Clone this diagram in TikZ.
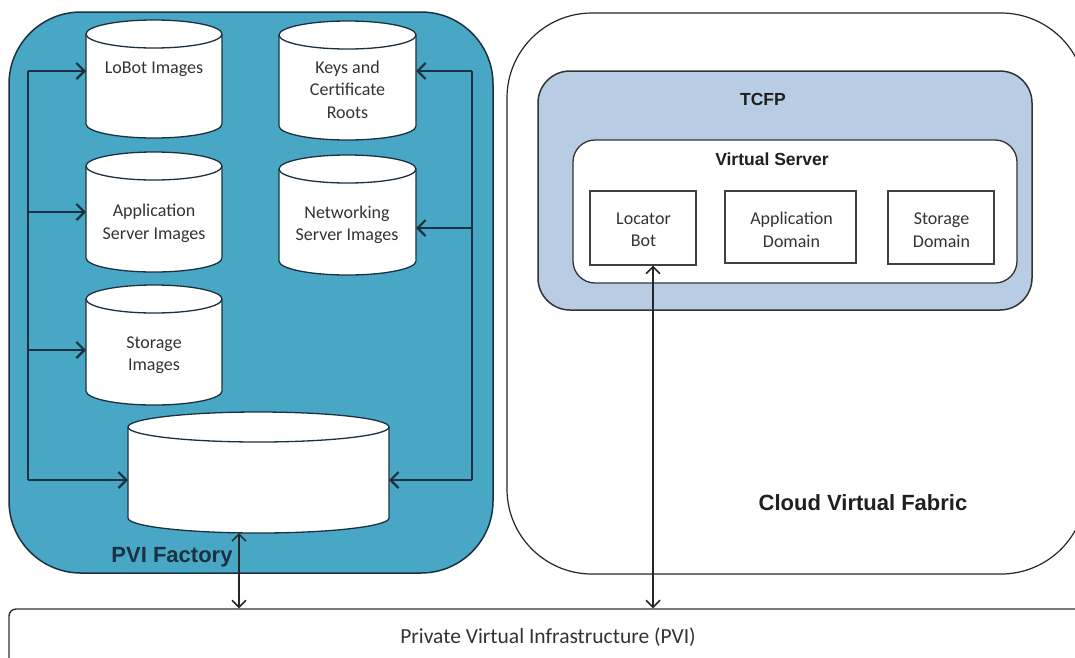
\documentclass[tikz,border=0pt]{standalone}
\usepackage{fontspec}
\setmainfont{Carlito}
\newfontfamily\hdfont{Liberation Sans}
\usetikzlibrary{arrows.meta,fit}
\definecolor{factoryfill}{HTML}{49A7C6}
\definecolor{navy}{HTML}{1B3040}
\definecolor{tcfpfill}{HTML}{B8CCE4}
\definecolor{txtgray}{HTML}{333333}
\tikzset{
  factorybox/.style={draw=navy, line width=1.5pt, fill=factoryfill, rounded corners=72pt},
  cloudbox/.style={draw=black!85, line width=1.2pt, fill=white, rounded corners=85pt},
  pvibox/.style={draw=black!80, line width=1.4pt, fill=white, rounded corners=7pt},
  tcfpbox/.style={draw=black!80, line width=1.5pt, fill=tcfpfill, rounded corners=32pt},
  vsbox/.style={draw=black!80, line width=1.3pt, fill=white, rounded corners=22pt},
  domainbox/.style={draw=black!75, line width=1.3pt, fill=white},
  cylstyle/.style={draw=navy, line width=1.3pt, fill=white},
  cyltext/.style={text=txtgray, font=\fontsize{18}{22.5}\selectfont, align=center},
  hdlabel/.style={font=\hdfont\bfseries\fontsize{22}{26}\selectfont, text=black!88},
  hdsmall/.style={font=\hdfont\bfseries\fontsize{17.5}{21}\selectfont, text=black!88},
  feed/.style={draw=navy, line width=2.2pt, -{Straight Barb[length=8pt,width=16pt]}},
  trunk/.style={draw=navy, line width=2.2pt},
  link/.style={draw=black!85, line width=1.5pt, {Straight Barb[length=7pt,width=14pt]}-{Straight Barb[length=7pt,width=14pt]}}
}
\newcommand\dbcyl[6]{%
  \node[fit={(#2,#3)(#4,#5)}, inner sep=0pt, outer sep=0pt] (#1) {};
  \pgfmathsetmacro\cylrx{(#4-#2)/2}
  \draw[cylstyle] (#2,#3+#6) -- (#2,#5-#6) arc[start angle=180,end angle=0,x radius=\cylrx,y radius=#6]
     -- (#4,#3+#6) arc[start angle=0,end angle=-180,x radius=\cylrx,y radius=#6] -- cycle;
  \draw[cylstyle, fill=none] (#2,#3+#6) arc[start angle=180,end angle=0,x radius=\cylrx,y radius=#6];
}
\begin{document}
\begin{tikzpicture}[x=1pt,y=-1pt]
\useasboundingbox[fill=white] (0,0) rectangle (1075,657);
% big containers
\node[factorybox, minimum width=484pt, minimum height=561pt] (factory) at (251,292.5) {};
\node[cloudbox, minimum width=579pt, minimum height=561pt] (cloud) at (796.5,293.5) {};
\node[pvibox, minimum width=1081pt, minimum height=70pt] (pvi) at (549.5,644) {};
\node[tcfpbox, minimum width=494pt, minimum height=239pt] (tcfp) at (785,190.5) {};
\node[vsbox, minimum width=444pt, minimum height=143pt] (vs) at (795,211.5) {};
\node[domainbox, minimum width=106pt, minimum height=74pt] (locator) at (643,228) {};
\node[domainbox, minimum width=131pt, minimum height=72pt] (appdom) at (790.5,227) {};
\node[domainbox, minimum width=106pt, minimum height=73pt] (stordom) at (941,227.5) {};
% labels of the right side
\node[hdsmall] (tcfplabel) at (763,99) {TCFP};
\node[hdsmall] (vslabel) at (772,159) {Virtual Server};
\node[cyltext] (loctext) at (643.5,230) {Locator\\Bot};
\node[cyltext] (apptext) at (791.5,230) {Application\\Domain};
\node[cyltext] (stortext) at (941.5,230) {Storage\\Domain};
\node[hdlabel] (cloudlabel) at (863,503) {Cloud Virtual Fabric};
\node[cyltext, font=\fontsize{21.5}{26}\selectfont] (pvilabel) at (548,637) {Private Virtual Infrastructure (PVI)};
% cylinders
\dbcyl{lobot}{86}{20}{222}{138}{14}
\dbcyl{keys}{279}{21}{416}{140}{14}
\dbcyl{appsrv}{86}{152}{222}{272}{14}
\dbcyl{netsrv}{279}{155}{416}{275}{14}
\dbcyl{storimg}{86}{285}{222}{405}{14}
\dbcyl{big}{128}{412}{389}{533}{15}
\node[cyltext] (lobottext) at (154,69) {LoBot Images};
\node[cyltext] (keystext) at (347.5,89.5) {Keys and\\Certificate\\Roots};
\node[cyltext] (appsrvtext) at (154,223.5) {Application\\Server Images};
\node[cyltext] (netsrvtext) at (347,225) {Networking\\Server Images};
\node[cyltext] (storimgtext) at (154,355) {Storage\\Images};
\node[hdlabel, text=navy] (factorylabel) at (172,557) {PVI Factory};
% feeding connectors
\coordinate (lt) at (28,71);
\coordinate (lb) at (28,480);
\coordinate (rt) at (472,71);
\coordinate (rb) at (472,480);
\draw[trunk] (lt) -- (lb);
\draw[trunk] (rt) -- (rb);
\draw[feed] (lt) -- (lt -| lobot.west);
\draw[feed] (28,212) -- (appsrv.west |- 0,212);
\draw[feed] (28,350) -- (storimg.west |- 0,350);
\draw[feed] (lb) -- (lb -| big.west);
\draw[feed] (rt) -- (rt -| keys.east);
\draw[feed] (472,228) -- (netsrv.east |- 0,228);
\draw[feed] (rb) -- (rb -| big.east);
% links to PVI
\draw[link] (big.south -| 239,0) -- (pvi.north -| 239,0);
\draw[link] (locator.south -| 653,0) -- (pvi.north -| 653,0);
\end{tikzpicture}
\end{document}
